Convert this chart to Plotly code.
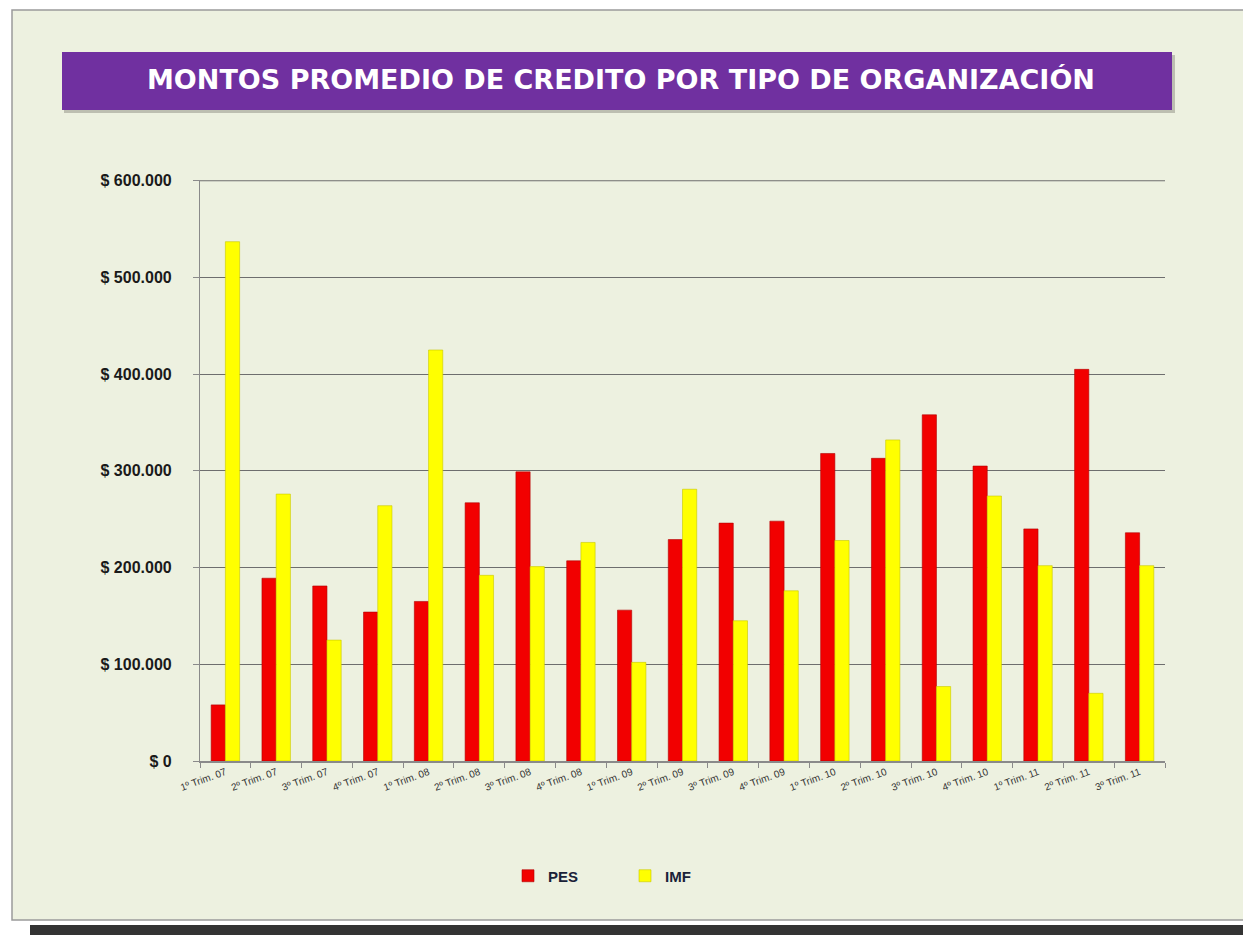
import plotly.graph_objects as go

categories = ["1º Trim. 07", "2º Trim. 07", "3º Trim. 07", "4º Trim. 07",
              "1º Trim. 08", "2º Trim. 08", "3º Trim. 08", "4º Trim. 08",
              "1º Trim. 09", "2º Trim. 09", "3º Trim. 09", "4º Trim. 09",
              "1º Trim. 10", "2º Trim. 10", "3º Trim. 10", "4º Trim. 10",
              "1º Trim. 11", "2º Trim. 11", "3º Trim. 11"]
pes = [58000, 189000, 181000, 154000, 165000, 267000, 299000, 207000, 156000, 229000,
       246000, 248000, 318000, 313000, 358000, 305000, 240000, 405000, 236000]
imf = [537000, 276000, 125000, 264000, 425000, 192000, 201000, 226000, 102000, 281000,
       145000, 176000, 228000, 332000, 77000, 274000, 202000, 70000, 202000]
tick_vals = [0, 100000, 200000, 300000, 400000, 500000, 600000]
tick_text = ["$ 0", "$ 100.000", "$ 200.000", "$ 300.000", "$ 400.000", "$ 500.000", "$ 600.000"]
title_text = "MONTOS PROMEDIO DE CREDITO POR TIPO DE ORGANIZACIÓN"

W, H = 1243, 935
L, R, T, B = 200, 1165, 180, 761
pw, ph = R - L, B - T

def px(x):
    return (x - L) / pw

def py(y):
    return (B - y) / ph

fig = go.Figure()
fig.add_trace(go.Bar(name="PES", x=categories, y=pes,
                     marker=dict(color="#F20000", line=dict(color="#B00000", width=0.6))))
fig.add_trace(go.Bar(name="IMF", x=categories, y=imf,
                     marker=dict(color="#FFFF00", line=dict(color="#C8C800", width=0.6))))

shapes = [
    # outer panel
    dict(type="rect", xref="paper", yref="paper", x0=px(12), x1=px(1250), y0=py(920), y1=py(10),
         fillcolor="#EDF1E0", line=dict(color="#9A9A9A", width=1.5), layer="below"),
    # bottom dark bar
    dict(type="rect", xref="paper", yref="paper", x0=px(30), x1=px(1250), y0=py(936), y1=py(925),
         fillcolor="#333333", line=dict(width=0), layer="below"),
    # title shadow
    dict(type="rect", xref="paper", yref="paper", x0=px(64), x1=px(1175), y0=py(113), y1=py(55),
         fillcolor="rgba(130,130,120,0.45)", line=dict(width=0), layer="below"),
    # title bar
    dict(type="rect", xref="paper", yref="paper", x0=px(62), x1=px(1172), y0=py(110), y1=py(52),
         fillcolor="#7030A0", line=dict(width=0), layer="below"),
    # top gridline (at the top of the axis range)
    dict(type="line", xref="paper", yref="y", x0=0, x1=1, y0=tick_vals[-1], y1=tick_vals[-1],
         line=dict(color="#6E6E6E", width=1.2), layer="below"),
]

fig.update_layout(
    width=W, height=H,
    margin=dict(l=L, r=W - R, t=T, b=H - B, autoexpand=False),
    paper_bgcolor="white",
    plot_bgcolor="rgba(0,0,0,0)",
    barmode="group", bargap=0.44, bargroupgap=0.0,
    shapes=shapes,
    font=dict(family="Liberation Sans, Arial, sans-serif", color="#222222"),
    showlegend=True,
    legend=dict(orientation="h", x=px(508), y=py(876), xanchor="left", yanchor="middle",
                bgcolor="rgba(0,0,0,0)", entrywidth=72, entrywidthmode="pixels",
                itemwidth=30,
                font=dict(size=15, color="#1A2238", family="Liberation Sans, Arial, sans-serif",
                          weight="bold"),
                traceorder="normal"),
    annotations=[dict(text="<b>" + title_text + "</b>", xref="paper", yref="paper",
                      x=px(621), y=py(79), xanchor="center", yanchor="middle", showarrow=False,
                      font=dict(size=27, color="white", family="DejaVu Sans, Arial, sans-serif"))],
)
fig.update_yaxes(range=[0, 600800], tickvals=tick_vals, ticktext=["<b>" + t + "</b>" for t in tick_text],
                 showgrid=True, gridcolor="#6E6E6E", gridwidth=1.2,
                 showline=True, linecolor="#8A8A8A", linewidth=1.2,
                 ticks="outside", ticklen=6, tickcolor="#8A8A8A", ticklabelstandoff=18,
                 tickfont=dict(size=16, color="#1A1A1A"), zeroline=False)
fig.update_xaxes(showline=True, linecolor="#8A8A8A", linewidth=1.5,
                 ticks="outside", tickson="boundaries", ticklen=5, tickcolor="#8A8A8A",
                 tickangle=-20, tickfont=dict(size=10, color="#333333"))

fig.write_html("out.html", config={"displayModeBar": False},
               post_script="document.body.style.margin='0';document.body.style.overflow='hidden';")
